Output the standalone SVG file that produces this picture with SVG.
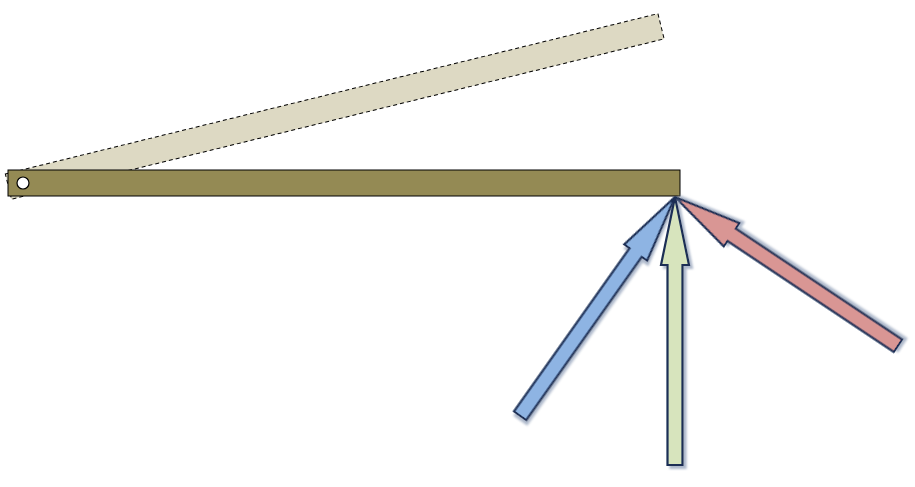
<svg xmlns="http://www.w3.org/2000/svg" width="915" height="487" viewBox="0 0 915 487">
  <style>
    .ghost { fill: #ddd9c3; stroke: #000; stroke-width: 1; stroke-dasharray: 4 3; }
    .bar { fill: #948a54; stroke: #000; stroke-width: 1; }
    .pin { fill: #fff; stroke: #000; stroke-width: 1.2; }
    .arrow { stroke: #1a2e55; stroke-width: 2.2; stroke-linejoin: miter; filter: url(#shadow); }
  </style>
  <defs>
    <filter id="shadow" x="-30%" y="-10%" width="160%" height="120%">
      <feDropShadow dx="3" dy="3" stdDeviation="1.2" flood-color="#8c9bb5" flood-opacity="0.7"/>
    </filter>
    <path id="arrowShape" d="M0,0 L14,68 L7.5,68 L7.5,268 L-7.5,268 L-7.5,68 L-14,68 Z"/>
  </defs>
  <rect width="915" height="487" fill="#fff"/>
  <g id="ghost-bar">
    <rect class="ghost" x="8" y="170" width="672" height="26" transform="rotate(-13.8 23 183)"/>
  </g>
  <g id="bar">
    <rect class="bar" x="8" y="170" width="672" height="26"/>
    <circle class="pin" cx="23" cy="183" r="6"/>
  </g>
  <g id="connectors">
    <g id="arrow-blue" transform="translate(675 197) rotate(35.3)">
      <use href="#arrowShape" class="arrow" fill="#8eb4e3"/>
    </g>
    <g id="arrow-red" transform="translate(675 197) rotate(-56.3)">
      <use href="#arrowShape" class="arrow" fill="#d99694"/>
    </g>
    <g id="arrow-green" transform="translate(675 197)">
      <use href="#arrowShape" class="arrow" fill="#d7e4bd"/>
    </g>
  </g>
</svg>
